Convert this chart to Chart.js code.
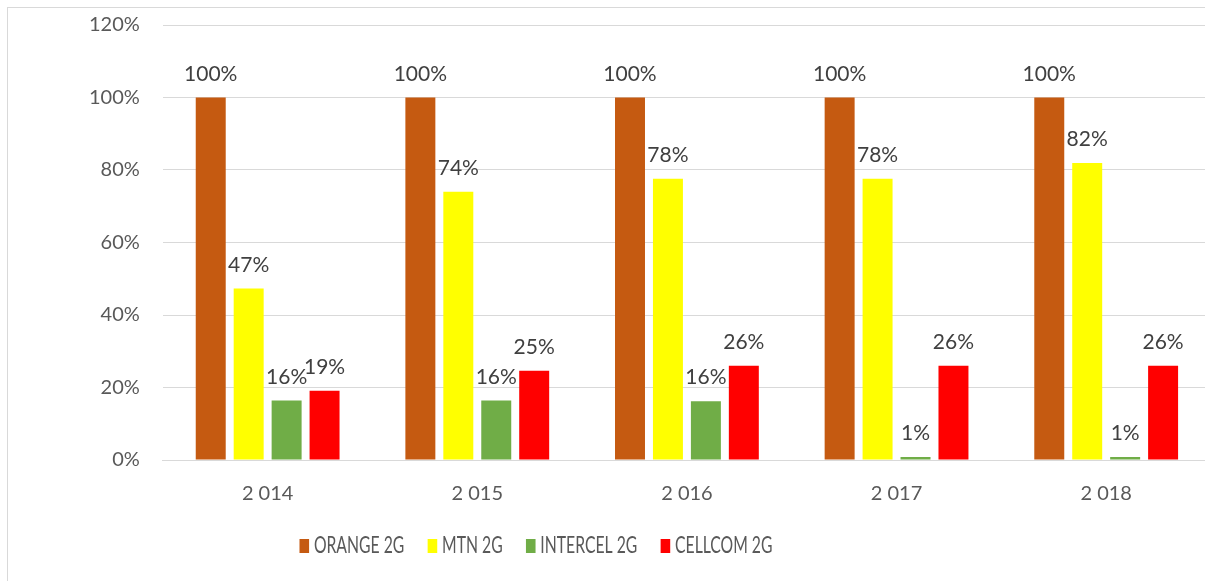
<!DOCTYPE html>
<html>
<head>
<meta charset="utf-8">
<script src="https://cdn.jsdelivr.net/npm/chart.js@4/dist/chart.umd.min.js"></script>
<style>
  html, body { margin: 0; padding: 0; background: #fff; overflow: hidden; }
  #frame { position: absolute; left: 7px; top: 7px; width: 1400px; height: 800px; border: 1px solid #d9d9d9; box-sizing: border-box; }
  #wrap { position: absolute; left: 0; top: 0; width: 1220px; height: 581px; }
</style>
</head>
<body>
<div id="frame"></div>
<div id="wrap"><canvas id="c"></canvas></div>
<script>
const categories = ["2 014", "2 015", "2 016", "2 017", "2 018"];
const seriesNames = ["ORANGE 2G", "MTN 2G", "INTERCEL 2G", "CELLCOM 2G"];
const orange2G = [1.00, 1.00, 1.00, 1.00, 1.00];
const mtn2G = [0.473, 0.74, 0.776, 0.776, 0.819];
const intercel2G = [0.164, 0.164, 0.162, 0.008, 0.008];
const cellcom2G = [0.191, 0.246, 0.26, 0.26, 0.26];
const seriesColors = ["#c55a11", "#ffff00", "#70ad47", "#ff0000"];
const yTicks = [0, 0.2, 0.4, 0.6, 0.8, 1.0, 1.2];

const FONT = "Lato, 'Open Sans', sans-serif";

const labelPlugin = {
  id: 'barLabels',
  afterDatasetsDraw(chart) {
    const ctx = chart.ctx;
    ctx.save();
    ctx.font = "21px " + FONT;
    ctx.fillStyle = "#404040";
    ctx.textAlign = "center";
    ctx.textBaseline = "alphabetic";
    chart.data.datasets.forEach((ds, i) => {
      chart.getDatasetMeta(i).data.forEach((bar, j) => {
        const v = ds.data[j];
        ctx.fillText(Math.round(v * 100) + "%", bar.x, bar.y - 17);
      });
    });
    ctx.restore();
  }
};

// Legend drawn in a horizontally condensed style (as in the reference)
const legendPlugin = {
  id: 'condensedLegend',
  afterDraw(chart) {
    const ctx = chart.ctx;
    const sx = 0.685;
    const box = 14, gapText = 7, gapItem = 34;
    const centerX = 536, baseY = 553;
    ctx.save();
    ctx.font = "23px " + FONT;
    ctx.textBaseline = "alphabetic";
    ctx.textAlign = "left";
    const items = chart.data.datasets.map(ds => ({
      label: ds.label, color: ds.backgroundColor, w: ctx.measureText(ds.label).width
    }));
    let total = 0;
    items.forEach((it, k) => { total += box + gapText + it.w + (k < items.length - 1 ? gapItem : 0); });
    ctx.translate(centerX, 0);
    ctx.scale(sx, 1);
    let x = -total / 2;
    items.forEach(it => {
      ctx.fillStyle = it.color;
      ctx.fillRect(x, baseY - box, box, box);
      x += box + gapText;
      ctx.fillStyle = "#595959";
      ctx.fillText(it.label, x, baseY);
      x += it.w + gapItem;
    });
    ctx.restore();
  }
};

const data = {
  labels: categories,
  datasets: [orange2G, mtn2G, intercel2G, cellcom2G].map((arr, i) => ({
    label: seriesNames[i],
    data: arr,
    backgroundColor: seriesColors[i],
    borderWidth: 0,
    categoryPercentage: 0.724,
    barPercentage: 0.79
  }))
};

new Chart(document.getElementById('c'), {
  type: 'bar',
  data,
  options: {
    responsive: true,
    maintainAspectRatio: false,
    animation: false,
    layout: { padding: { left: 66, right: 9, top: 25, bottom: 61 } },
    plugins: {
      tooltip: { enabled: false },
      legend: { display: false }
    },
    scales: {
      x: {
        grid: { display: false },
        border: { display: true, color: '#d9d9d9', width: 1 },
        ticks: { font: { family: FONT, size: 20 }, color: '#595959', padding: 14 }
      },
      y: {
        min: 0, max: 1.2,
        afterBuildTicks(axis) { axis.ticks = yTicks.map(v => ({ value: v })); },
        afterFit(axis) { axis.paddingTop = 0; axis.paddingBottom = 0; },
        grid: { color: '#d9d9d9', lineWidth: 1, drawTicks: false },
        border: { display: false },
        ticks: {
          font: { family: FONT, size: 20 },
          color: '#595959',
          padding: 23,
          callback: v => Math.round(v * 100) + "%"
        }
      }
    }
  },
  plugins: [labelPlugin, legendPlugin]
});
</script>
</body>
</html>
